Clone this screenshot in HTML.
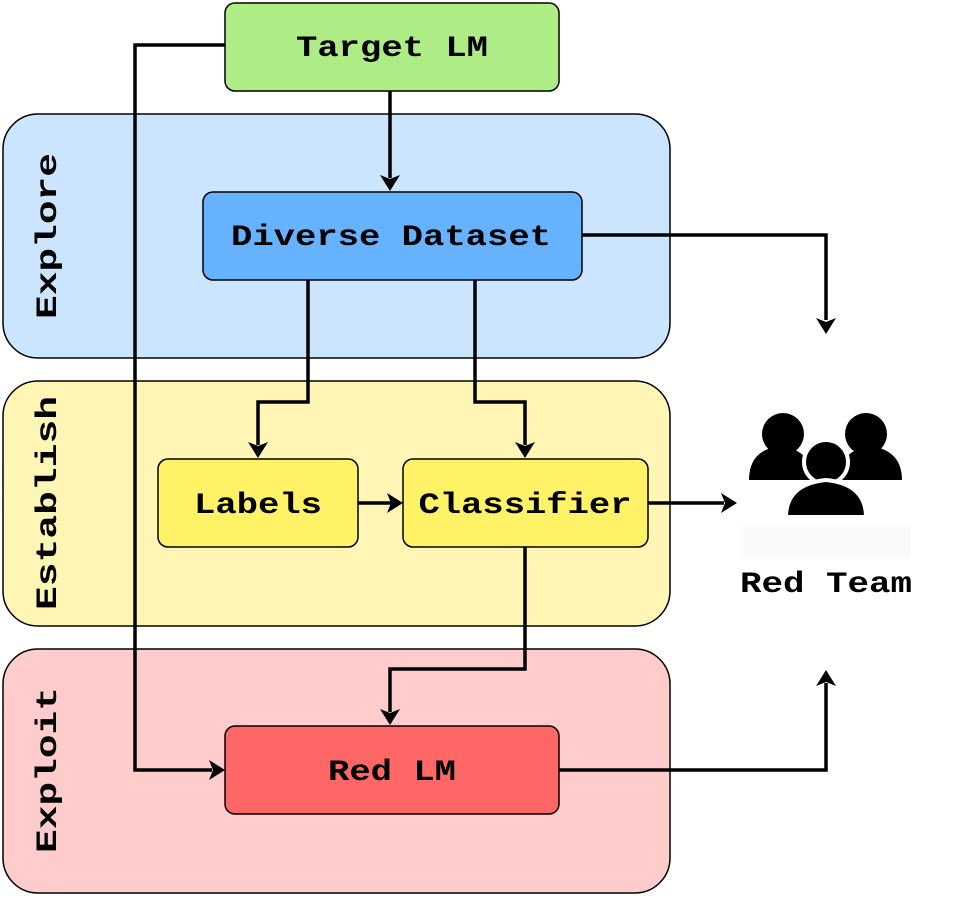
<!DOCTYPE html>
<html><head><style>html,body{margin:0;padding:0;background:#fff}</style></head><body>
<svg width="963" height="904" viewBox="0 0 963 904" xmlns="http://www.w3.org/2000/svg" font-family="'Liberation Mono', monospace" font-weight="bold">
<rect x="3" y="114" width="667" height="244" rx="35" fill="#cce5ff" stroke="#000" stroke-width="1.5"/>
<rect x="3" y="381" width="667" height="245" rx="35" fill="#fff6b6" stroke="#000" stroke-width="1.5"/>
<rect x="3" y="649" width="667" height="244" rx="35" fill="#ffcccc" stroke="#000" stroke-width="1.5"/>
<g font-size="30" fill="#000" text-anchor="middle">
<text transform="translate(56,236) rotate(-90)" textLength="166" lengthAdjust="spacingAndGlyphs">Explore</text>
<text transform="translate(56,503) rotate(-90)" textLength="214" lengthAdjust="spacingAndGlyphs">Establish</text>
<text transform="translate(56,770) rotate(-90)" textLength="166" lengthAdjust="spacingAndGlyphs">Exploit</text>
</g>
<g fill="none" stroke="#000" stroke-width="3.5">
<path d="M225,45 H135 V770 H212"/>
<path d="M390,91 V178"/>
<path d="M582,235 H826 V320"/>
<path d="M308,280 V402 H258 V445"/>
<path d="M475,280 V402 H525 V445"/>
<path d="M358,503 H391"/>
<path d="M648,503 H724"/>
<path d="M525,547 V669 H390 V712"/>
<path d="M559,770 H826 V683"/>
</g>
<g fill="#000">
<path d="M225,770 L209,760 L213,770 L209,780 Z"/>
<path d="M390,191 L380,175 L390,179 L400,175 Z"/>
<path d="M826,334 L816,318 L826,322 L836,318 Z"/>
<path d="M258,458 L248,442 L258,446 L268,442 Z"/>
<path d="M525,458 L515,442 L525,446 L535,442 Z"/>
<path d="M403,503 L387,493 L391,503 L387,513 Z"/>
<path d="M737,503 L721,493 L725,503 L721,513 Z"/>
<path d="M390,725 L380,709 L390,713 L400,709 Z"/>
<path d="M826,670 L816,686 L826,682 L836,686 Z"/>
</g>
<g stroke="#000" stroke-width="1.5">
<rect x="225" y="3" width="334" height="88" rx="10" fill="#aeec86"/>
<rect x="203" y="192" width="379" height="88" rx="10" fill="#66b2ff"/>
<rect x="158" y="459" width="200" height="88" rx="10" fill="#fff266"/>
<rect x="403" y="459" width="245" height="88" rx="10" fill="#fff266"/>
<rect x="225" y="726" width="334" height="88" rx="10" fill="#ff6666"/>
</g>
<g font-size="30" fill="#000" text-anchor="middle">
<text x="392" y="56" textLength="192" lengthAdjust="spacingAndGlyphs">Target LM</text>
<text x="391" y="245" textLength="320" lengthAdjust="spacingAndGlyphs">Diverse Dataset</text>
<text x="258" y="513" textLength="128" lengthAdjust="spacingAndGlyphs">Labels</text>
<text x="525" y="513" textLength="213" lengthAdjust="spacingAndGlyphs">Classifier</text>
<text x="392" y="780" textLength="128" lengthAdjust="spacingAndGlyphs">Red LM</text>
<rect x="741" y="527" width="170" height="30" fill="#fafafa"/>
<text x="826" y="592" textLength="172" lengthAdjust="spacingAndGlyphs">Red Team</text>
</g>
<g fill="#000" stroke="#fff" stroke-width="4">
<path d="M749,480 Q749,450 780,446 Q812,450 814,480 Z" stroke="none"/>
<circle cx="783" cy="434" r="21" stroke="none"/>
<path d="M838,480 Q840,450 870,446 Q902,450 902,480 Z" stroke="none"/>
<circle cx="866" cy="434" r="21" stroke="none"/>
<circle cx="826" cy="462" r="22"/>
<path d="M786,517 Q786,484 826,480 Q866,484 866,517 Z"/>
</g>
</svg>
</body></html>
